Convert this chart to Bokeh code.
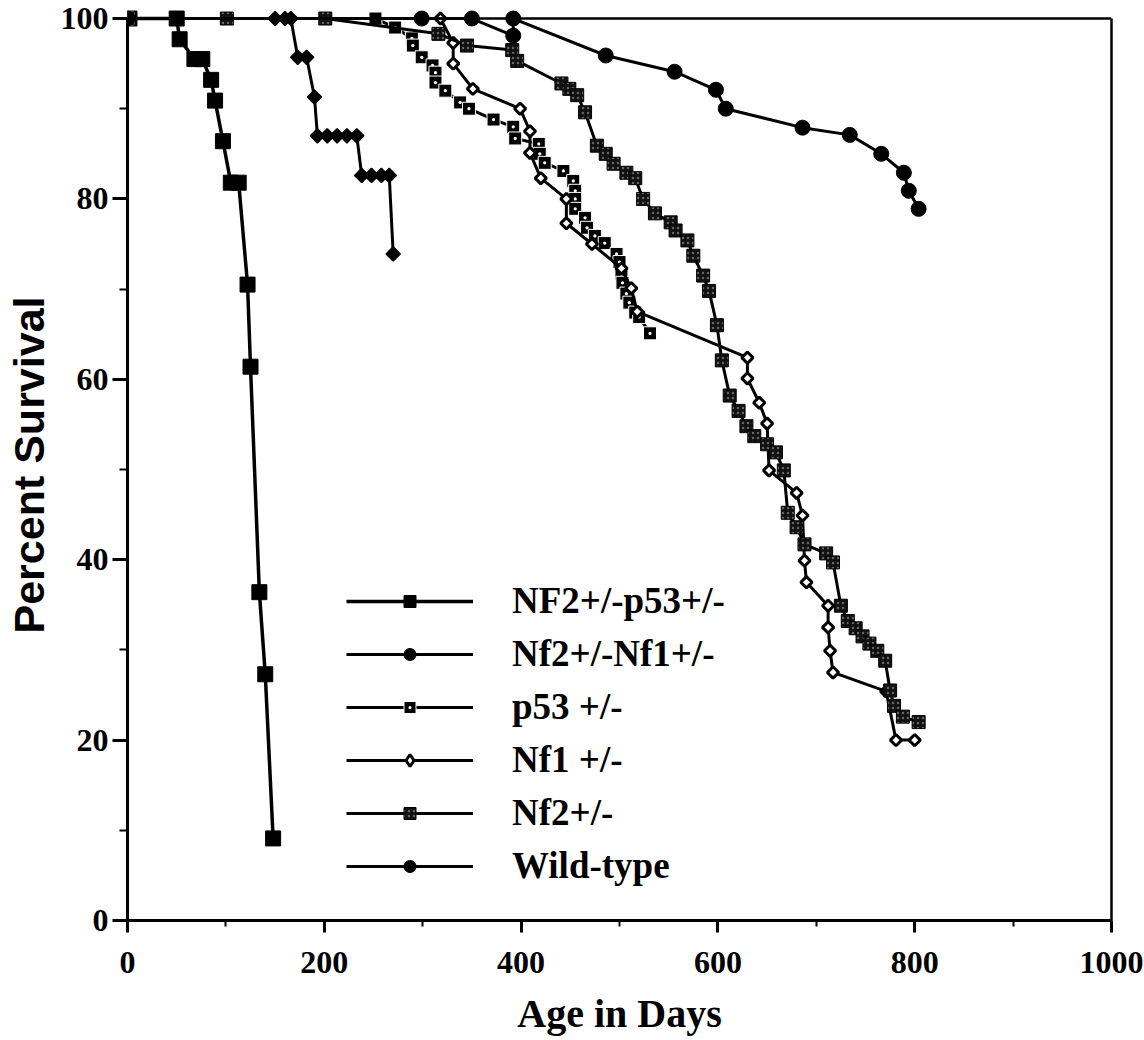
import math
from bokeh.plotting import figure
from bokeh.models import Range1d, FixedTicker, Legend, LegendItem, LinearAxis, Span
from bokeh.embed import file_html
from bokeh.resources import INLINE

# ---------------- data ----------------
x_ticks = [0, 200, 400, 600, 800, 1000]
x_minor = [100, 300, 500, 700, 900]
y_ticks = [0, 20, 40, 60, 80, 100]
y_minor = [10, 30, 50, 70, 90]

series_names = ["NF2+/-p53+/-", "Nf2+/-Nf1+/-", "p53 +/-", "Nf1 +/-", "Nf2+/-", "Wild-type"]

nf2p53_days = [2, 50, 53, 68, 76, 85, 89, 97, 105, 113, 122, 125, 134, 140, 148]
nf2p53_pct = [100, 100, 97.7, 95.5, 95.5, 93.2, 90.9, 86.4, 81.8, 81.8, 70.5, 61.4, 36.4, 27.3, 9.1]

nf2nf1_days = [0, 150, 160, 166, 173, 182, 190, 193, 203, 213, 223, 233, 238, 248, 258, 266, 270]
nf2nf1_pct = [100, 100, 100, 100, 95.7, 95.7, 91.3, 87.0, 87.0, 87.0, 87.0, 87.0, 82.6, 82.6, 82.6, 82.6, 73.9]

p53_days = [0, 252, 272, 289, 290, 299, 310, 313, 313, 323, 338, 347, 372, 392, 394, 418, 419,
            424, 443, 453, 455, 455, 455, 465, 467, 475, 485, 497, 500, 502, 503, 507, 510, 516,
            520, 531]
p53_pct = [100, 100, 99.0, 97.8, 97.0, 95.7, 94.8, 94.0, 92.9, 92.0, 90.7, 90.0, 88.8, 88.0, 86.7,
           86.1, 85.0, 84.0, 83.1, 82.0, 80.9, 80.0, 78.9, 77.9, 76.8, 75.9, 75.1, 73.9, 73.0, 71.7,
           70.7, 69.5, 68.5, 67.4, 66.9, 65.1]

nf1_days = [0, 318, 331, 331, 351, 399, 409, 409, 420, 446, 446, 472, 502, 512, 518, 630, 630, 642,
            650, 652, 680, 686, 688, 690, 712, 712, 714, 717, 771, 781, 800]
nf1_pct = [100, 100, 97.3, 95.0, 92.2, 90.0, 87.5, 85.1, 82.3, 80.0, 77.3, 75.0, 72.3, 70.1, 67.5,
           62.4, 60.1, 57.4, 55.1, 49.9, 47.4, 44.9, 39.9, 37.5, 34.9, 32.5, 29.9, 27.5, 25.4, 20.0,
           20.0]

nf2_days = [0, 101, 201, 316, 345, 391, 396, 441, 449, 457, 465, 477, 486, 494, 507, 516, 524, 536,
            552, 557, 569, 575, 585, 591, 599, 604, 612, 621, 629, 637, 650, 659, 667, 671, 680, 688,
            710, 717, 725, 732, 740, 747, 754, 762, 770, 775, 779, 788, 804]
nf2_pct = [100, 100, 100, 98.3, 97.0, 96.5, 95.3, 92.8, 92.2, 91.5, 89.6, 85.9, 85.0, 83.9, 82.9,
           82.3, 80.0, 78.4, 77.4, 76.5, 75.4, 73.7, 71.5, 69.8, 66.0, 62.1, 58.2, 56.5, 54.8, 53.7,
           52.8, 51.9, 49.9, 45.2, 43.6, 41.7, 40.7, 39.7, 34.9, 33.2, 32.4, 31.5, 30.7, 29.9, 28.8,
           25.5, 23.8, 22.6, 22.0]

wt_days = [0, 299, 350, 392, 392, 486, 556, 598, 608, 686, 734, 766, 789, 794, 804]
wt_pct = [100, 100, 100, 98.1, 100, 95.9, 94.1, 92.1, 90.0, 87.9, 87.1, 85.0, 82.9, 80.9, 78.9]

# ---------------- figure ----------------
p = figure(width=1144, height=1040, output_backend="svg", toolbar_location=None,
           x_range=Range1d(0, 1000), y_range=Range1d(0, 101),
           min_border_left=127, min_border_right=33, min_border_top=9, min_border_bottom=120)
p.xgrid.visible = False
p.ygrid.visible = False
p.outline_line_color = None
p.background_fill_color = "white"
p.border_fill_color = "white"

p.xaxis.ticker = FixedTicker(ticks=x_ticks, minor_ticks=x_minor)
p.yaxis.ticker = FixedTicker(ticks=y_ticks, minor_ticks=y_minor)
p.yaxis.bounds = (0, 100)

for ax in (p.xaxis[0], p.yaxis[0]):
    ax.axis_line_width = 3
    ax.axis_line_color = "black"
    ax.major_tick_line_width = 3
    ax.minor_tick_line_width = 2
    ax.major_tick_in = 0
    ax.minor_tick_in = 0
    ax.major_label_text_font = "Liberation Serif"
    ax.major_label_text_font_style = "bold"
    ax.major_label_text_font_size = "32px"
    ax.major_label_text_color = "black"
    ax.axis_label_text_color = "black"
    ax.axis_label_text_font_style = "bold"

p.xaxis.major_tick_out = 12
p.xaxis.minor_tick_out = 6
p.xaxis.major_label_standoff = 19
p.xaxis.axis_label = "Age in Days"
p.xaxis.axis_label_text_font = "Liberation Serif"
p.xaxis.axis_label_text_font_size = "40px"
p.xaxis.axis_label_standoff = 15

p.yaxis.major_tick_out = 15
p.yaxis.minor_tick_out = 8
p.yaxis.major_label_standoff = 4
p.yaxis.axis_label = "Percent Survival"
p.yaxis.axis_label_text_font = "Liberation Sans"
p.yaxis.axis_label_text_font_size = "43px"
p.yaxis.axis_label_standoff = 5

# frame: right border as a bare axis, top border at 100 %
rax = LinearAxis(bounds=(0, 100), axis_line_width=2.5, axis_line_color="black",
                 major_tick_line_color=None, minor_tick_line_color=None,
                 major_label_text_alpha=0, major_label_text_font_size="1px")
p.add_layout(rax, "right")
p.add_layout(Span(location=100, dimension="width", line_color="black", line_width=2.5))

rot = math.pi / 4
items = []

# NF2+/-p53+/-
l1 = p.line(nf2p53_days, nf2p53_pct, line_color="black", line_width=3.5)
s1 = p.scatter(nf2p53_days, nf2p53_pct, marker="square", size=15, fill_color="black", line_color="black")
items.append(LegendItem(label=series_names[0], renderers=[l1, s1]))

# Nf2+/-Nf1+/-
l2 = p.line(nf2nf1_days, nf2nf1_pct, line_color="black", line_width=3)
s2 = p.scatter(nf2nf1_days, nf2nf1_pct, marker="square", angle=rot, size=10, fill_color="black",
               line_color="black", line_width=1.5)
k2 = p.scatter(nf2nf1_days, nf2nf1_pct, marker="circle", size=11, fill_color="black",
               line_color="black", visible=False)
items.append(LegendItem(label=series_names[1], renderers=[l2, k2]))

# p53 +/-
l3 = p.line(p53_days, p53_pct, line_color="black", line_width=3)
s3 = p.scatter(p53_days, p53_pct, marker="square_dot", size=13, fill_color="black", line_color="white",
               line_width=1)
items.append(LegendItem(label=series_names[2], renderers=[l3, s3]))

# Nf1 +/-
l4 = p.line(nf1_days, nf1_pct, line_color="black", line_width=3)
s4 = p.scatter(nf1_days, nf1_pct, marker="square", angle=rot, size=8, fill_color="white",
               line_color="black", line_width=3)
k4 = p.scatter(nf1_days, nf1_pct, marker="diamond", size=12, fill_color="white", line_color="black",
               line_width=3, visible=False)
items.append(LegendItem(label=series_names[3], renderers=[l4, k4]))

# Nf2+/-
l5 = p.line(nf2_days, nf2_pct, line_color="black", line_width=3)
s5 = p.scatter(nf2_days, nf2_pct, marker="square", size=13, fill_color="#111111", line_color="black",
               hatch_pattern="dot", hatch_color="white", hatch_scale=5, hatch_weight=1, hatch_alpha=0.35)
items.append(LegendItem(label=series_names[4], renderers=[l5, s5]))

# Wild-type
l6 = p.line(wt_days, wt_pct, line_color="black", line_width=3)
s6 = p.scatter(wt_days, wt_pct, marker="circle", size=15, fill_color="black", line_color="black")
items.append(LegendItem(label=series_names[5], renderers=[l6, s6]))

legend = Legend(items=items, location=(219, 33), orientation="vertical",
                glyph_width=127, glyph_height=30, label_height=40, spacing=10,
                padding=0, margin=0, border_line_color=None, background_fill_alpha=0,
                label_standoff=39, label_text_font="Liberation Serif",
                label_text_font_style="bold", label_text_font_size="37px",
                label_text_color="black", label_text_baseline="middle")
p.add_layout(legend)

open("out.html", "w").write(file_html(p, INLINE))
